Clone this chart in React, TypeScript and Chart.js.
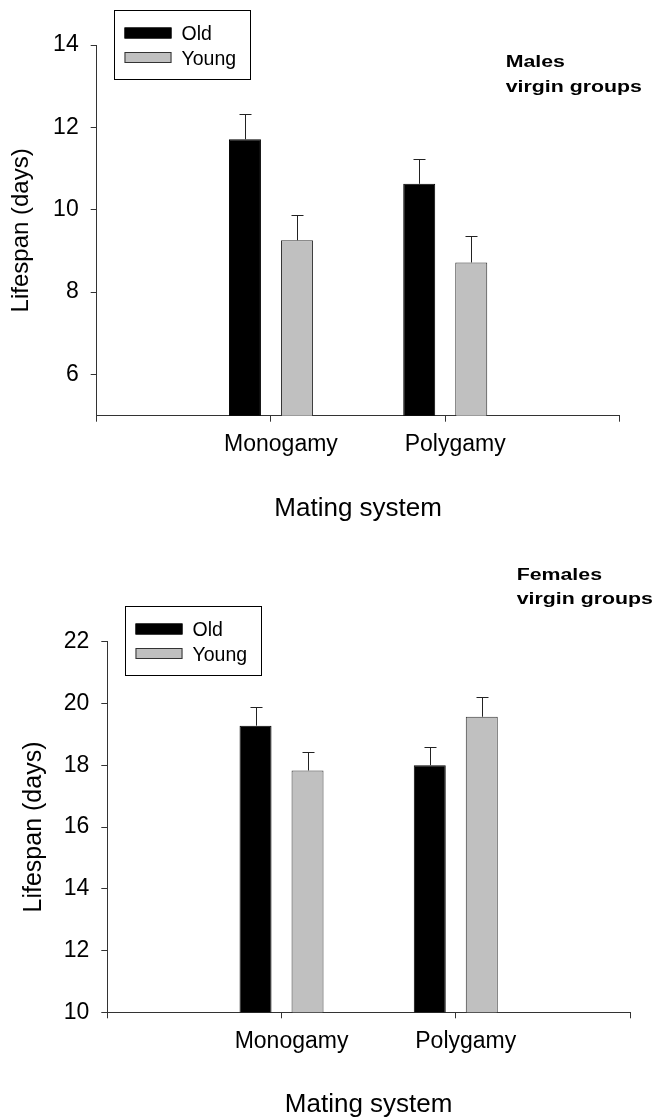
import React, { useEffect, useRef } from "react";
import { Chart, registerables } from "chart.js";

Chart.register(...registerables);

// ---------- data ----------
const categories = ["", "Monogamy", "Polygamy", ""];
const seriesNames = ["Old", "Young"];

const maleOld = [null, 11.71, 10.63, null];
const maleYoung = [null, 9.26, 8.72, null];
const maleOldErr = [null, 0.61, 0.61, null];
const maleYoungErr = [null, 0.62, 0.64, null];
const maleTicks = [6, 8, 10, 12, 14];

const femaleOld = [null, 19.28, 18.0, null];
const femaleYoung = [null, 17.83, 19.57, null];
const femaleOldErr = [null, 0.62, 0.6, null];
const femaleYoungErr = [null, 0.61, 0.63, null];
const femaleTicks = [10, 12, 14, 16, 18, 20, 22];

const xTitle = "Mating system";
const yTitle = "Lifespan (days)";
const maleNote = ["Males", "virgin groups"];
const femaleNote = ["Females", "virgin groups"];

const FONT = "'Liberation Sans', Arial, sans-serif";
const seriesFill = ["#000000", "#c0c0c0"];
const seriesBorder = ["#000000", "#333333"];

// ---------- plugins ----------
const errorBarPlugin = {
  id: "errorBars",
  afterDatasetsDraw(chart: any) {
    const ctx = chart.ctx;
    const yScale = chart.scales.y;
    ctx.save();
    ctx.strokeStyle = "#222";
    ctx.lineWidth = 1;
    chart.data.datasets.forEach((ds: any, d: number) => {
      const meta = chart.getDatasetMeta(d);
      meta.data.forEach((el: any, i: number) => {
        const v = ds.data[i];
        const e = ds.errors ? ds.errors[i] : null;
        if (v == null || e == null) return;
        const x = Math.round(el.x) + 0.5;
        const yTop = el.y;
        const yCap = Math.round(yScale.getPixelForValue(v + e)) + 0.5;
        ctx.beginPath();
        ctx.moveTo(x, yTop);
        ctx.lineTo(x, yCap);
        ctx.moveTo(x - 6, yCap);
        ctx.lineTo(x + 6, yCap);
        ctx.stroke();
      });
    });
    ctx.restore();
  },
};

const boxLegendPlugin = {
  id: "boxLegend",
  afterDraw(chart: any, _args: any, opts: any) {
    const ctx = chart.ctx;
    const ca = chart.chartArea;
    const left = Math.round(ca.left + opts.dx) + 0.5;
    const top = Math.round(ca.top + opts.dy) + 0.5;
    const w = 136;
    const h = 69;
    ctx.save();
    ctx.strokeStyle = "#000";
    ctx.lineWidth = 1;
    ctx.strokeRect(left, top, w, h);
    const rows = [17, 41.5];
    chart.data.datasets.forEach((ds: any, i: number) => {
      const sy = top + rows[i];
      const sx = left + 10;
      ctx.fillStyle = ds.backgroundColor;
      ctx.fillRect(sx, sy, 47, 11);
      ctx.strokeStyle = ds.borderColor;
      ctx.strokeRect(sx + 0.5, sy + 0.5, 46, 10);
      ctx.fillStyle = "#000";
      ctx.font = `19.5px ${FONT}`;
      ctx.textBaseline = "alphabetic";
      ctx.textAlign = "left";
      ctx.fillText(ds.label, left + 67, sy + 5.5 + 7);
    });
    ctx.restore();
  },
};

const notePlugin = {
  id: "note",
  afterDraw(chart: any, _args: any, opts: any) {
    const ctx = chart.ctx;
    (opts.lines || []).forEach((t: string, i: number) => {
      ctx.save();
      ctx.fillStyle = "#000";
      ctx.font = `bold 17.2px ${FONT}`;
      ctx.textAlign = "left";
      ctx.textBaseline = "alphabetic";
      ctx.translate(opts.x, opts.y + i * 24.4);
      ctx.scale(1.24, 1);
      ctx.fillText(t, 0, 0);
      ctx.restore();
    });
  },
};

// ---------- panel ----------
type PanelProps = {
  height: number;
  old: (number | null)[];
  young: (number | null)[];
  oldErr: (number | null)[];
  youngErr: (number | null)[];
  ticks: number[];
  min: number;
  max: number;
  padTop: number;
  padRight: number;
  yWidth: number;
  xHeight: number;
  xTitlePad: number;
  yTitlePad: number;
  yTitleSize: number;
  xTickPad: number;
  note: string[];
  noteX: number;
  noteY: number;
  legendDy: number;
};

function Panel(p: PanelProps) {
  const ref = useRef<HTMLCanvasElement>(null);
  useEffect(() => {
    if (!ref.current) return;
    const chart = new Chart(ref.current, {
      type: "bar",
      data: {
        labels: categories,
        datasets: [
          {
            label: seriesNames[0],
            data: p.old,
            errors: p.oldErr,
            backgroundColor: seriesFill[0],
            borderColor: seriesBorder[0],
            borderWidth: 1,
            categoryPercentage: 0.597,
            barPercentage: 0.615,
          } as any,
          {
            label: seriesNames[1],
            data: p.young,
            errors: p.youngErr,
            backgroundColor: seriesFill[1],
            borderColor: seriesBorder[1],
            borderWidth: 1,
            categoryPercentage: 0.597,
            barPercentage: 0.615,
          } as any,
        ],
      },
      options: {
        responsive: false,
        animation: false,
        devicePixelRatio: 1,
        layout: { padding: { top: p.padTop, right: p.padRight, left: 0, bottom: 0 } },
        plugins: {
          legend: { display: false },
          tooltip: { enabled: false },
          boxLegend: { dx: 17.6, dy: p.legendDy },
          note: { lines: p.note, x: p.noteX, y: p.noteY },
        } as any,
        scales: {
          x: {
            type: "category",
            offset: false,
            grid: {
              display: true,
              drawOnChartArea: false,
              drawTicks: true,
              tickLength: 6,
              color: "#333",
              offset: false,
            },
            border: { display: true, color: "#333", width: 1 },
            ticks: {
              autoSkip: false,
              maxRotation: 0,
              minRotation: 0,
              labelOffset: 10,
              padding: p.xTickPad,
              color: "#000",
              font: { family: FONT, size: 23 },
            },
            title: {
              display: true,
              text: xTitle,
              color: "#000",
              font: { family: FONT, size: 26, lineHeight: 1 },
              padding: { top: 0, bottom: p.xTitlePad },
            },
            afterFit(scale: any) {
              scale.height = p.xHeight;
            },
          },
          y: {
            type: "linear",
            min: p.min,
            max: p.max,
            grid: {
              display: true,
              drawOnChartArea: false,
              drawTicks: true,
              tickLength: 6,
              color: "#333",
            },
            border: { display: true, color: "#333", width: 1 },
            ticks: {
              padding: 12,
              color: "#000",
              font: { family: FONT, size: 23 },
            },
            afterBuildTicks(axis: any) {
              axis.ticks = p.ticks.map((v) => ({ value: v }));
            },
            title: {
              display: true,
              text: yTitle,
              color: "#000",
              font: { family: FONT, size: p.yTitleSize, lineHeight: 1 },
              padding: { top: p.yTitlePad, bottom: 0 },
            },
            afterFit(scale: any) {
              scale.width = p.yWidth;
            },
          },
        },
      } as any,
      plugins: [errorBarPlugin, boxLegendPlugin, notePlugin],
    });
    return () => chart.destroy();
  }, []);
  return <canvas ref={ref} width={655} height={p.height} style={{ display: "block" }} />;
}

export default function App() {
  return (
    <div style={{ position: "absolute", left: 0, top: 0, width: 655, height: 1119, background: "#fff" }}>
      <Panel
        height={550}
        old={maleOld}
        young={maleYoung}
        oldErr={maleOldErr}
        youngErr={maleYoungErr}
        ticks={maleTicks}
        min={5}
        max={14}
        padTop={45}
        padRight={35.5}
        yWidth={96.7}
        xHeight={134.3}
        xTitlePad={27.7}
        yTitlePad={9.7}
        yTitleSize={24}
        xTickPad={9.2}
        note={maleNote}
        noteX={505.7}
        noteY={67.3}
        legendDy={-35}
      />
      <Panel
        height={569}
        old={femaleOld}
        young={femaleYoung}
        oldErr={femaleOldErr}
        youngErr={femaleYoungErr}
        ticks={femaleTicks}
        min={10}
        max={22}
        padTop={91.7}
        padRight={25}
        yWidth={107.3}
        xHeight={106.7}
        xTitlePad={1}
        yTitlePad={22}
        yTitleSize={25}
        xTickPad={9.9}
        note={femaleNote}
        noteX={516.7}
        noteY={30}
        legendDy={-35.7}
      />
    </div>
  );
}
